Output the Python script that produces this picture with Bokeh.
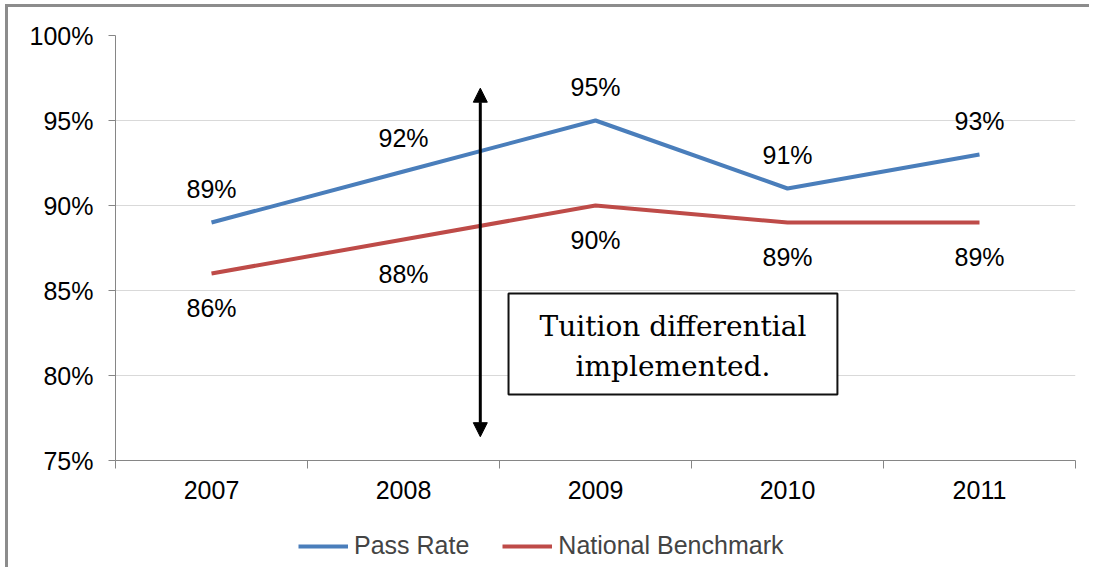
from bokeh.plotting import figure
from bokeh.layouts import column
from bokeh.models import (FixedTicker, Legend, LegendItem, Arrow, NormalHead,
                          BoxAnnotation, ColumnDataSource)
from bokeh.core.properties import value
from bokeh.embed import file_html
from bokeh.resources import INLINE

years = ["2007", "2008", "2009", "2010", "2011"]
pass_rate = [89, 92, 95, 91, 93]
benchmark = [86, 88, 90, 89, 89]
series_names = ["Pass Rate", "National Benchmark"]
y_ticks = [75, 80, 85, 90, 95, 100]
note_lines = ["Tuition differential", "implemented."]

# annotation placement (data units)
arrow_x = 1.90
arrow_top = 96.9
arrow_bottom = 76.4
box_left, box_right, box_top, box_bottom = 2.047, 3.76, 84.82, 78.88

BLUE = "#4A7EBB"
RED = "#BE4B48"
AXIS = "#868686"
FONT = "Liberation Sans"
FS = "25px"

xs = [i + 0.5 for i in range(len(years))]

p = figure(width=1084, height=513, output_backend="svg", toolbar_location=None,
           x_range=(0, len(years)), y_range=(75, 100),
           min_border_left=107, min_border_top=28, min_border_right=17,
           min_border_bottom=60, tools="")
p.outline_line_color = None
p.background_fill_color = "white"
p.border_fill_color = "white"

# axes
p.xaxis.ticker = FixedTicker(ticks=xs, minor_ticks=list(range(len(years) + 1)))
p.xaxis.major_label_overrides = {x: y for x, y in zip(xs, years)}
p.xaxis.major_tick_out = 0
p.xaxis.major_tick_in = 0
p.xaxis.minor_tick_out = 8
p.xaxis.minor_tick_in = 0
p.xaxis.minor_tick_line_color = AXIS
p.xaxis.axis_line_color = AXIS
p.xaxis.major_label_standoff = 12
p.xaxis.major_label_text_font = FONT
p.xaxis.major_label_text_font_size = FS
p.xaxis.major_label_text_color = "black"

p.yaxis.ticker = FixedTicker(ticks=y_ticks)
p.yaxis.major_label_overrides = {t: f"{t}%" for t in y_ticks}
p.yaxis.major_tick_out = 7
p.yaxis.major_tick_in = 0
p.yaxis.minor_tick_line_color = None
p.yaxis.major_tick_line_color = AXIS
p.yaxis.axis_line_color = AXIS
p.yaxis.major_label_standoff = 15
p.yaxis.major_label_text_font = FONT
p.yaxis.major_label_text_font_size = FS
p.yaxis.major_label_text_color = "black"

p.xgrid.grid_line_color = None
p.ygrid.ticker = FixedTicker(ticks=y_ticks)
p.ygrid.grid_line_color = "#d9d9d9"

# series
p.line(xs, pass_rate, line_color=BLUE, line_width=4)
p.line(xs, benchmark, line_color=RED, line_width=4)

src1 = ColumnDataSource(dict(x=xs, y=pass_rate, t=[f"{v}%" for v in pass_rate]))
src2 = ColumnDataSource(dict(x=xs, y=benchmark, t=[f"{v}%" for v in benchmark]))
p.text("x", "y", text="t", source=src1, text_align="center", text_baseline="middle",
       y_offset=-34, text_font=value(FONT), text_font_size=FS, text_color="black")
p.text("x", "y", text="t", source=src2, text_align="center", text_baseline="middle",
       y_offset=34, text_font=value(FONT), text_font_size=FS, text_color="black")

# arrow
p.add_layout(Arrow(x_start=arrow_x, y_start=arrow_bottom, x_end=arrow_x, y_end=arrow_top,
                   line_width=3, line_color="black",
                   start=NormalHead(size=14, fill_color="black", line_color="black"),
                   end=NormalHead(size=14, fill_color="black", line_color="black")))

# note box (underlay so that the text glyphs draw on top of it)
p.add_layout(BoxAnnotation(left=box_left, right=box_right, top=box_top, bottom=box_bottom,
                           fill_color="white", fill_alpha=1.0, line_color="#111111",
                           line_width=2, line_alpha=1.0, level="underlay"))
cx = (box_left + box_right) / 2
cy = (box_top + box_bottom) / 2
note_src = ColumnDataSource(dict(x=[cx, cx], y=[cy, cy], t=note_lines, off=[-18, 22]))
p.text("x", "y", text="t", source=note_src, y_offset="off", text_align="center",
       text_baseline="alphabetic", text_font=value("DejaVu Serif"),
       text_font_size="28px", text_color="black")

# legend strip (separate small figure under the chart)
lg = figure(width=1084, height=50, output_backend="svg", toolbar_location=None,
            x_range=(0, 1), y_range=(0, 1), x_axis_location=None, y_axis_location=None,
            min_border=0, tools="")
lg.outline_line_color = None
lg.grid.visible = False
k1 = lg.line([5, 6], [5, 6], line_color=BLUE, line_width=4)
k2 = lg.line([5, 6], [5, 6], line_color=RED, line_width=4)
legend = Legend(items=[LegendItem(label=series_names[0], renderers=[k1]),
                       LegendItem(label=series_names[1], renderers=[k2])],
                orientation="horizontal", location=(183, 10),
                label_text_font=FONT, label_text_font_size=FS,
                glyph_width=50, glyph_height=26, label_standoff=6, spacing=33,
                border_line_color=None, background_fill_alpha=0, margin=0, padding=0)
lg.add_layout(legend, "center")

# outer frame: only top and left edges, drawn as an offset shadow
layout = column(p, lg, spacing=0,
                styles={"margin-left": "8px", "margin-top": "7px",
                        "box-shadow": "-3px -3px 0 0 #8c8c8c"})

open("out.html", "w").write(file_html(layout, INLINE))
